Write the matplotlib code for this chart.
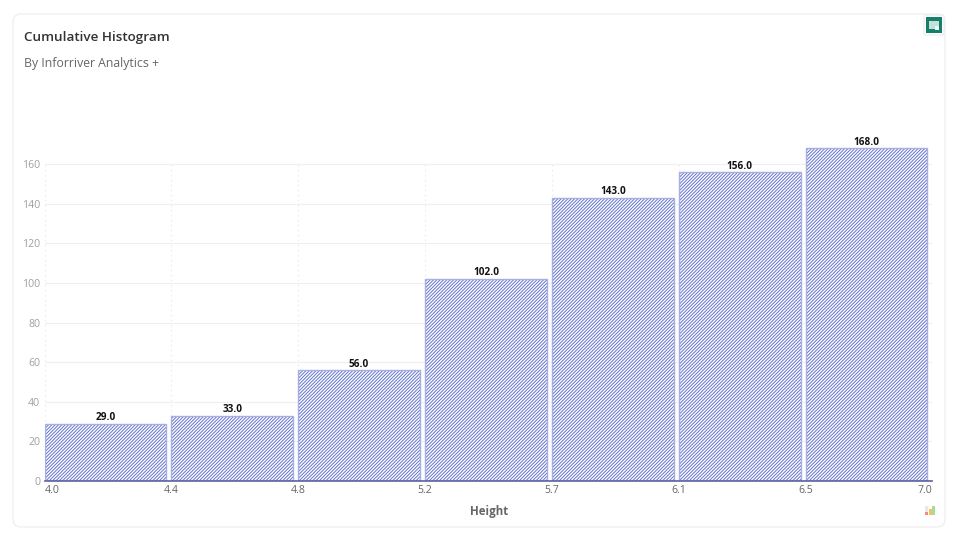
import matplotlib
matplotlib.use("Agg")
import matplotlib.pyplot as plt
from matplotlib.patches import FancyBboxPatch, Rectangle

bin_edges = ["4.0", "4.4", "4.8", "5.2", "5.7", "6.1", "6.5", "7.0"]
counts = [29, 33, 56, 102, 143, 156, 168]
y_ticks = [0, 20, 40, 60, 80, 100, 120, 140, 160]

W, H = 956, 536
plt.rcParams['font.family'] = ['Open Sans', 'DejaVu Sans']
plt.rcParams['hatch.linewidth'] = 0.7
fig = plt.figure(figsize=(W / 100, H / 100), dpi=100, facecolor='white')

# page-level decoration in pixel coordinates
bg = fig.add_axes([0, 0, 1, 1], zorder=0)
bg.set_xlim(0, W)
bg.set_ylim(H, 0)
bg.axis('off')
bg.add_patch(FancyBboxPatch((13, 14), 932, 513, boxstyle="round,pad=0,rounding_size=8",
                            fc='white', ec='#f0f0f0', lw=1.0))
bg.add_patch(FancyBboxPatch((924, 15), 20, 20, boxstyle="round,pad=0,rounding_size=2",
                            fc='white', ec='#eeeeee', lw=1))
bg.add_patch(Rectangle((926, 17), 16, 16, fc='#14806c', ec='none'))
bg.add_patch(Rectangle((929, 21), 10, 8, fc='#c4e0da', ec='none'))
bg.add_patch(Rectangle((935, 26), 4, 4, fc='#eef6f4', ec='none'))
for x, y0, h, c in [(925.5, 506, 9, '#e8e8e8'), (925.5, 511.5, 3.5, '#f08a8a'),
                    (929.5, 509, 6, '#f7c25a'), (932.5, 506, 9, '#a5dc9a')]:
    bg.add_patch(Rectangle((x, y0), 2.8, h, fc=c, ec='none'))
bg.text(24.5, 37, "Cumulative Histogram", fontsize=9.7, fontweight='semibold',
        color='#333333', va='center', ha='left')
bg.text(24.5, 63, "By Inforriver Analytics +", fontsize=8.8, color='#666666',
        va='center', ha='left')
bg.text(489, 511, "Height", fontsize=8.3, fontweight='bold', color='#666666',
        va='center', ha='center')

# plot area: x 44.5..932.5 px, y=0 at 481 px, 1.98 px per unit
left, right, bottom, top = 44.5, 932.5, 481, 125
ax = fig.add_axes([left / W, 1 - bottom / H, (right - left) / W, (bottom - top) / H],
                  facecolor='none', zorder=1)
n = len(counts)
ax.set_xlim(0, n)
ax.set_ylim(0, (bottom - top) / 1.98)

positions = list(range(n))
ax.bar(positions, counts, width=0.96, align='edge', facecolor='white',
       edgecolor='#6472cf', hatch='/' * 10, linewidth=0, zorder=3)
ax.bar(positions, counts, width=0.96, align='edge', facecolor='none',
       edgecolor='#a6aee2', linewidth=1.0, zorder=4)

for pos, v in zip(positions, counts):
    ax.text(pos + 0.48, v + 0.3, f"{v:.1f}", ha='center', va='bottom', fontsize=7.2,
            fontweight='bold', color='#111111', zorder=5)

ax.set_yticks(y_ticks)
ax.set_xticks(range(n + 1))
ax.set_xticklabels(bin_edges)
ax.get_xticklabels()[0].set_ha('left')
ax.get_xticklabels()[-1].set_ha('right')
ax.tick_params(axis='x', length=0, pad=3, labelsize=7.6, labelcolor='#666666')
ax.tick_params(axis='y', length=0, pad=3, labelsize=7.6, labelcolor='#a0a0a0')
ax.grid(axis='y', color='#f0f0f0', lw=0.9, zorder=1)
ax.vlines(range(n + 1), 0, y_ticks[-1], color='#ececec', lw=0.8,
          linestyles=[(0, (1.5, 3))], zorder=1)
ax.set_axisbelow(True)
for s in ['top', 'right', 'left']:
    ax.spines[s].set_visible(False)
ax.spines['bottom'].set_color('#5a629f')
ax.spines['bottom'].set_linewidth(1.2)
ax.spines['bottom'].set_zorder(6)

fig.savefig('out.png', dpi=100, facecolor='white')
